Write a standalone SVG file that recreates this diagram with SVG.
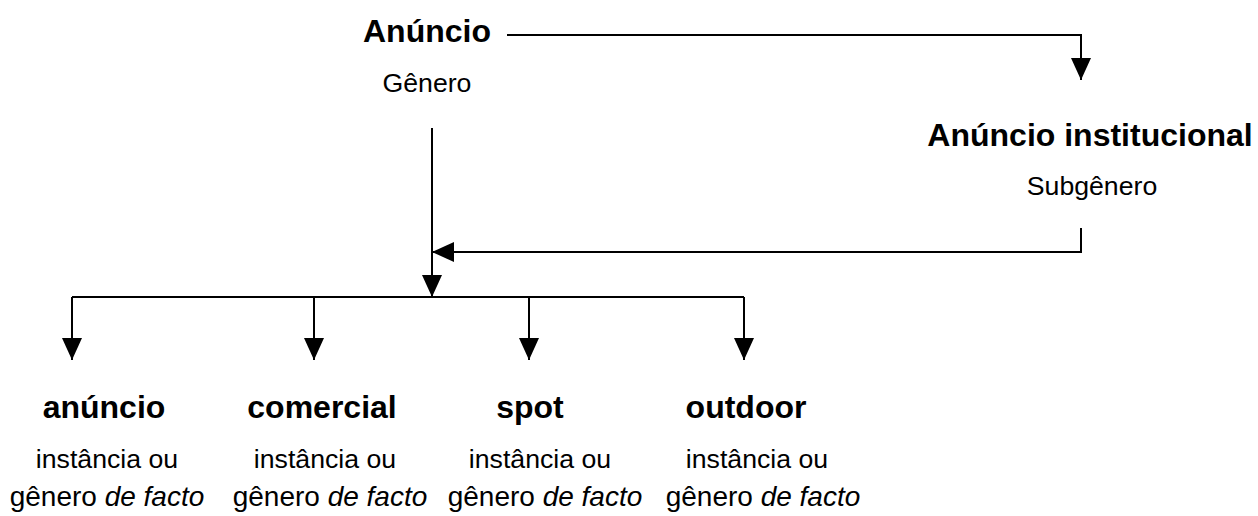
<svg xmlns="http://www.w3.org/2000/svg" width="1258" height="516" viewBox="0 0 1258 516">
<style>
text{font-family:"Liberation Sans",Arial,sans-serif;fill:#000;text-anchor:middle}
.b{font-weight:bold;font-size:32px}
.r{font-size:26.67px}
.g{font-size:28px}
.i{font-style:italic}
.c{fill:none;stroke:#000;stroke-width:2}
</style>
<defs>
<marker id="ah" viewBox="0 0 22 20" refX="22" refY="10" markerWidth="22" markerHeight="20" markerUnits="userSpaceOnUse" orient="auto">
<path d="M0,0 L22,10 L0,20 Z" fill="#000"/>
</marker>
</defs>
<rect width="1258" height="516" fill="#fff"/>
<g id="connectors">
<path class="c" d="M507,35 H1081 V80" marker-end="url(#ah)"/>
<path class="c" d="M1081,228 V252 H432" marker-end="url(#ah)"/>
<path class="c" d="M432,128 V297" marker-end="url(#ah)"/>
<path class="c" d="M72,297 H744"/>
<path class="c" d="M72,297 V360" marker-end="url(#ah)"/>
<path class="c" d="M314,297 V360" marker-end="url(#ah)"/>
<path class="c" d="M529,297 V360" marker-end="url(#ah)"/>
<path class="c" d="M744,297 V360" marker-end="url(#ah)"/>
</g>
<g id="anuncio-genero">
<text class="b" x="427" y="42">Anúncio</text>
<text class="r" x="427" y="92">Gênero</text>
</g>
<g id="anuncio-institucional">
<text class="b" x="1090" y="146">Anúncio institucional</text>
<text class="r" x="1092" y="195">Subgênero</text>
</g>
<g id="anuncio">
<text class="b" x="104" y="418">anúncio</text>
<text class="r" x="107" y="468">instância ou</text>
<text class="g" x="107" y="506">gênero <tspan class="i">de facto</tspan></text>
</g>
<g id="comercial">
<text class="b" x="322" y="418">comercial</text>
<text class="r" x="325" y="468">instância ou</text>
<text class="g" x="330" y="506">gênero <tspan class="i">de facto</tspan></text>
</g>
<g id="spot">
<text class="b" x="530" y="418">spot</text>
<text class="r" x="540" y="468">instância ou</text>
<text class="g" x="545" y="506">gênero <tspan class="i">de facto</tspan></text>
</g>
<g id="outdoor">
<text class="b" x="746" y="418">outdoor</text>
<text class="r" x="757" y="468">instância ou</text>
<text class="g" x="763" y="506">gênero <tspan class="i">de facto</tspan></text>
</g>
</svg>
